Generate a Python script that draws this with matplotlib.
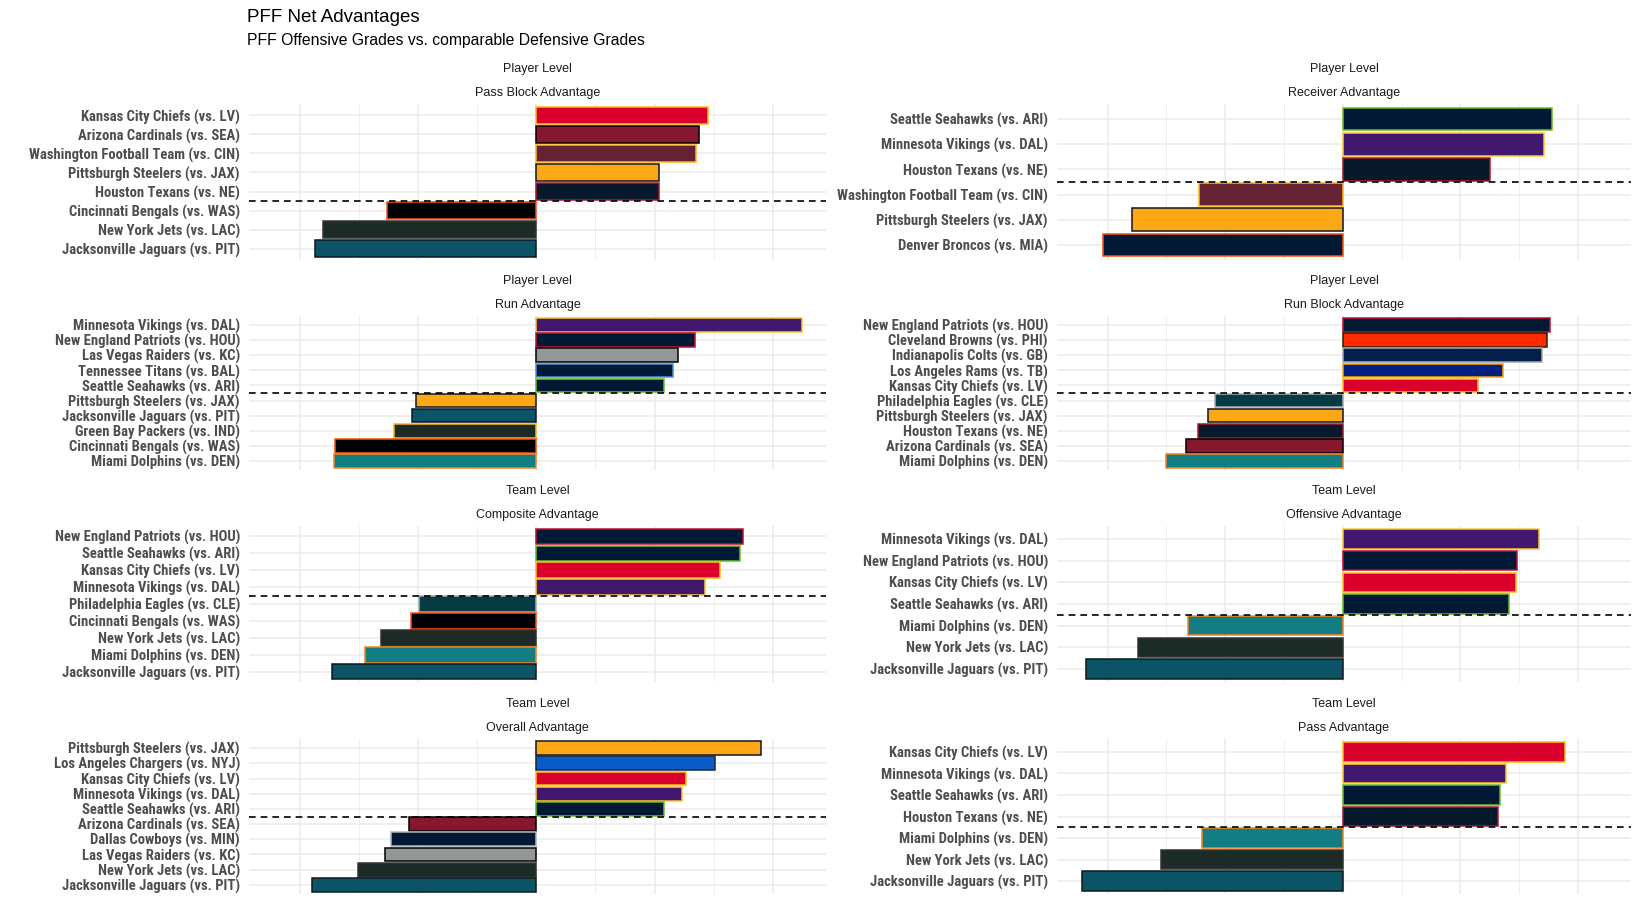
import matplotlib
matplotlib.use("Agg")
import matplotlib.pyplot as plt
from matplotlib import font_manager

# ---- data (grid major = 10 units) ----
pass_block_labels = ["Kansas City Chiefs (vs. LV)", "Arizona Cardinals (vs. SEA)",
                     "Washington Football Team (vs. CIN)", "Pittsburgh Steelers (vs. JAX)",
                     "Houston Texans (vs. NE)", "Cincinnati Bengals (vs. WAS)",
                     "New York Jets (vs. LAC)", "Jacksonville Jaguars (vs. PIT)"]
pass_block_vals = [14.5, 13.75, 13.5, 10.4, 10.4, -12.6, -18.0, -18.7]

receiver_labels = ["Seattle Seahawks (vs. ARI)", "Minnesota Vikings (vs. DAL)",
                   "Houston Texans (vs. NE)", "Washington Football Team (vs. CIN)",
                   "Pittsburgh Steelers (vs. JAX)", "Denver Broncos (vs. MIA)"]
receiver_vals = [17.8, 17.1, 12.5, -12.2, -17.9, -20.4]

run_labels = ["Minnesota Vikings (vs. DAL)", "New England Patriots (vs. HOU)",
              "Las Vegas Raiders (vs. KC)", "Tennessee Titans (vs. BAL)",
              "Seattle Seahawks (vs. ARI)", "Pittsburgh Steelers (vs. JAX)",
              "Jacksonville Jaguars (vs. PIT)", "Green Bay Packers (vs. IND)",
              "Cincinnati Bengals (vs. WAS)", "Miami Dolphins (vs. DEN)"]
run_vals = [22.5, 13.4, 12.0, 11.55, 10.8, -10.2, -10.5, -12.0, -17.0, -17.1]

run_block_labels = ["New England Patriots (vs. HOU)", "Cleveland Browns (vs. PHI)",
                    "Indianapolis Colts (vs. GB)", "Los Angeles Rams (vs. TB)",
                    "Kansas City Chiefs (vs. LV)", "Philadelphia Eagles (vs. CLE)",
                    "Pittsburgh Steelers (vs. JAX)", "Houston Texans (vs. NE)",
                    "Arizona Cardinals (vs. SEA)", "Miami Dolphins (vs. DEN)"]
run_block_vals = [17.6, 17.4, 16.9, 13.6, 11.5, -10.9, -11.5, -12.3, -13.3, -15.0]

composite_labels = ["New England Patriots (vs. HOU)", "Seattle Seahawks (vs. ARI)",
                    "Kansas City Chiefs (vs. LV)", "Minnesota Vikings (vs. DAL)",
                    "Philadelphia Eagles (vs. CLE)", "Cincinnati Bengals (vs. WAS)",
                    "New York Jets (vs. LAC)", "Miami Dolphins (vs. DEN)",
                    "Jacksonville Jaguars (vs. PIT)"]
composite_vals = [17.5, 17.2, 15.5, 14.3, -9.9, -10.6, -13.1, -14.5, -17.3]

offensive_labels = ["Minnesota Vikings (vs. DAL)", "New England Patriots (vs. HOU)",
                    "Kansas City Chiefs (vs. LV)", "Seattle Seahawks (vs. ARI)",
                    "Miami Dolphins (vs. DEN)", "New York Jets (vs. LAC)",
                    "Jacksonville Jaguars (vs. PIT)"]
offensive_vals = [16.7, 14.8, 14.7, 14.1, -13.2, -17.4, -21.8]

overall_labels = ["Pittsburgh Steelers (vs. JAX)", "Los Angeles Chargers (vs. NYJ)",
                  "Kansas City Chiefs (vs. LV)", "Minnesota Vikings (vs. DAL)",
                  "Seattle Seahawks (vs. ARI)", "Arizona Cardinals (vs. SEA)",
                  "Dallas Cowboys (vs. MIN)", "Las Vegas Raiders (vs. KC)",
                  "New York Jets (vs. LAC)", "Jacksonville Jaguars (vs. PIT)"]
overall_vals = [19.0, 15.1, 12.7, 12.3, 10.8, -10.8, -12.3, -12.8, -15.1, -19.0]

pass_labels = ["Kansas City Chiefs (vs. LV)", "Minnesota Vikings (vs. DAL)",
               "Seattle Seahawks (vs. ARI)", "Houston Texans (vs. NE)",
               "Miami Dolphins (vs. DEN)", "New York Jets (vs. LAC)",
               "Jacksonville Jaguars (vs. PIT)"]
pass_vals = [18.9, 13.9, 13.4, 13.2, -12.0, -15.5, -22.2]

# team fill / outline colours
team_colors = {
    "Kansas City Chiefs": ("#D9002B", "#FFB81C"),
    "Arizona Cardinals": ("#87162F", "#000000"),
    "Washington Football Team": ("#652232", "#FFB612"),
    "Pittsburgh Steelers": ("#FDA814", "#101820"),
    "Houston Texans": ("#07192A", "#A71930"),
    "Cincinnati Bengals": ("#000000", "#FB4F14"),
    "New York Jets": ("#1C2B25", "#333333"),
    "Jacksonville Jaguars": ("#0B5466", "#101820"),
    "Seattle Seahawks": ("#011935", "#69BE28"),
    "Minnesota Vikings": ("#42176E", "#FFC62F"),
    "Denver Broncos": ("#011935", "#FB4F14"),
    "New England Patriots": ("#011935", "#C60C30"),
    "Las Vegas Raiders": ("#949797", "#000000"),
    "Tennessee Titans": ("#011935", "#4B92DB"),
    "Green Bay Packers": ("#1C2B25", "#FFB612"),
    "Miami Dolphins": ("#127D83", "#F58220"),
    "Cleveland Browns": ("#FF2A00", "#311D00"),
    "Indianapolis Colts": ("#03204A", "#A2AAAD"),
    "Los Angeles Rams": ("#022180", "#FFA300"),
    "Philadelphia Eagles": ("#073B43", "#A5ACAF"),
    "Los Angeles Chargers": ("#0A5CC8", "#1A2A3A"),
    "Dallas Cowboys": ("#011935", "#B0B7BC"),
}

panels = [
    ("Player Level", "Pass Block Advantage", pass_block_labels, pass_block_vals),
    ("Player Level", "Receiver Advantage", receiver_labels, receiver_vals),
    ("Player Level", "Run Advantage", run_labels, run_vals),
    ("Player Level", "Run Block Advantage", run_block_labels, run_block_vals),
    ("Team Level", "Composite Advantage", composite_labels, composite_vals),
    ("Team Level", "Offensive Advantage", offensive_labels, offensive_vals),
    ("Team Level", "Overall Advantage", overall_labels, overall_vals),
    ("Team Level", "Pass Advantage", pass_labels, pass_vals),
]

# condensed font if present, otherwise shrink Liberation Sans to the same width
installed = {f.name for f in font_manager.fontManager.ttflist}
if "Roboto Condensed" in installed:
    LABEL_FONT, LABEL_SIZE = ["Roboto Condensed", "DejaVu Sans"], 10.5
elif "Liberation Sans Narrow" in installed:
    LABEL_FONT, LABEL_SIZE = ["Liberation Sans Narrow", "DejaVu Sans"], 10.0
else:
    LABEL_FONT, LABEL_SIZE = ["Liberation Sans", "DejaVu Sans"], 7.9
TITLE_FONT = ["Liberation Sans", "DejaVu Sans"]

fig = plt.figure(figsize=(16.43, 9.24), dpi=100)
W, H = 1643, 924

# panel boxes in pixels: (left, top, right, bottom)
col_x = [(249, 826), (1057, 1631)]
row_y = [(104, 260), (316, 470), (526, 682), (739, 894)]

for i, (level, name, labels, vals) in enumerate(panels):
    r, c = divmod(i, 2)
    x0, x1 = col_x[c]
    y0, y1 = row_y[r]
    ax = fig.add_axes([x0 / W, 1 - y1 / H, (x1 - x0) / W, (y1 - y0) / H])

    teams = [lab.split(" (vs.")[0] for lab in labels]
    fills = [team_colors[t][0] for t in teams]
    edges = [team_colors[t][1] for t in teams]
    pos = list(range(len(labels)))

    ax.barh(pos, vals, height=0.9, color=fills, edgecolor=edges, linewidth=1.1, zorder=3)

    n_pos = sum(1 for v in vals if v > 0)
    ax.axhline(n_pos - 0.5, color="black", linestyle=(0, (4, 3)), linewidth=1.2,
               zorder=4, clip_on=False)

    ax.set_xlim(-24.3, 24.5)
    ax.set_ylim(len(labels) - 1 + 0.6, -0.6)
    ax.set_xticks([-20, -10, 0, 10, 20])
    ax.set_xticks([-15, -5, 5, 15], minor=True)
    ax.set_yticks(pos)
    ax.set_yticklabels(labels, fontsize=LABEL_SIZE, fontweight="bold", color="#4D4D4D",
                       family=LABEL_FONT)
    ax.tick_params(axis="both", which="both", length=0, labelbottom=False, pad=6.5)
    ax.grid(which="major", axis="both", color="#EBEBEB", linewidth=1.1, zorder=0)
    ax.grid(which="minor", axis="x", color="#EBEBEB", linewidth=0.55, zorder=0)
    ax.set_axisbelow(True)
    for s in ax.spines.values():
        s.set_visible(False)

    ax.annotate(level, xy=(0.5, 1), xycoords="axes fraction", xytext=(0, 25),
                textcoords="offset points", ha="center", va="center",
                fontsize=9, color="#1A1A1A", family=TITLE_FONT)
    ax.annotate(name, xy=(0.5, 1), xycoords="axes fraction", xytext=(0, 7.9),
                textcoords="offset points", ha="center", va="center",
                fontsize=9, color="#1A1A1A", family=TITLE_FONT)

fig.text(247 / W, 1 - 18 / H, "PFF Net Advantages", fontsize=13.5, va="center",
         ha="left", color="black", family=TITLE_FONT)
fig.text(247 / W, 1 - 40 / H, "PFF Offensive Grades vs. comparable Defensive Grades",
         fontsize=11.3, va="center", ha="left", color="black", family=TITLE_FONT)

fig.savefig("out.png", dpi=100, facecolor="white")
